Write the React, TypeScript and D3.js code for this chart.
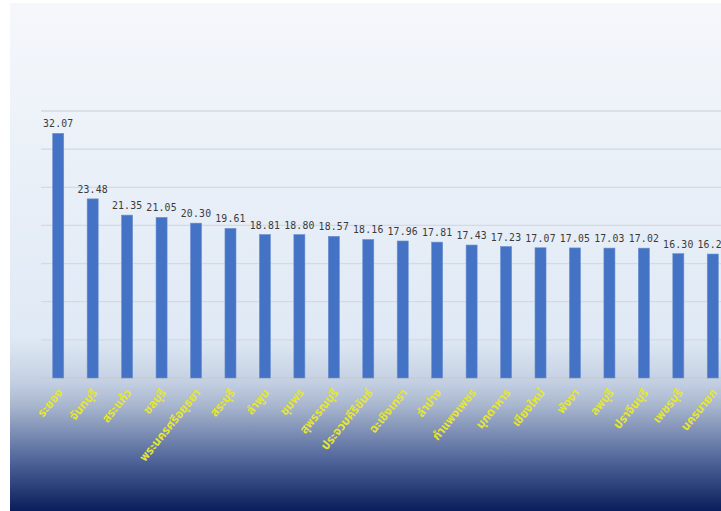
import React from "react";
import * as d3 from "d3";

const provinces: string[] = [
  "ระยอง", "จันทบุรี", "สระแก้ว", "ชลบุรี", "พระนครศรีอยุธยา", "สระบุรี", "ลำพูน", "ชุมพร",
  "สุพรรณบุรี", "ประจวบคีรีขันธ์", "ฉะเชิงเทรา", "ลำปาง", "กำแพงเพชร", "มุกดาหาร", "เชียงใหม่",
  "พังงา", "ลพบุรี", "ปราจีนบุรี", "เพชรบุรี", "นครนายก",
];
const values: number[] = [
  32.07, 23.48, 21.35, 21.05, 20.3, 19.61, 18.81, 18.8, 18.57, 18.16, 17.96, 17.81, 17.43,
  17.23, 17.07, 17.05, 17.03, 17.02, 16.3, 16.25,
];
const yTicks: number[] = [0, 5, 10, 15, 20, 25, 30, 35];

const W = 721;
const H = 511;
const plotLeft = 41;
const step = 34.45;
const baseY = 378;
const topY = 111;

export default function App() {
  const x = d3
    .scaleBand<string>()
    .domain(provinces)
    .range([plotLeft, plotLeft + step * provinces.length])
    .paddingInner(0.68)
    .paddingOuter(0.34);
  const y = d3.scaleLinear().domain([0, 35]).range([baseY, topY]);

  return (
    <div style={{ position: "fixed", left: 0, top: 0, width: W, height: H, background: "#fff" }}>
      <svg width={W} height={H} style={{ display: "block" }}>
        <defs>
          <linearGradient id="bg" x1="0" y1="0" x2="0" y2="1">
            <stop offset="0" stopColor="#f5f7fb" />
            <stop offset="0.66" stopColor="#dfe9f5" />
            <stop offset="0.745" stopColor="#c4d0e2" />
            <stop offset="0.79" stopColor="#aab8cf" />
            <stop offset="0.9" stopColor="#50659a" />
            <stop offset="1" stopColor="#0a1d5c" />
          </linearGradient>
        </defs>
        <rect x={10} y={3} width={W - 10} height={H - 3} fill="url(#bg)" />
        {yTicks.map((t) => (
          <line
            key={t}
            x1={plotLeft}
            x2={W}
            y1={y(t)}
            y2={y(t)}
            stroke={t === 0 ? "#c9cdd3" : "#d6d9de"}
            strokeWidth={1.3}
          />
        ))}
        {provinces.map((p, i) => {
          const bx = x(p)!;
          const bw = x.bandwidth();
          const cx = bx + bw / 2;
          return (
            <g key={p}>
              <rect
                x={bx}
                y={y(values[i])}
                width={bw}
                height={baseY - y(values[i])}
                fill="#4472c4"
                stroke="#6b8fd0"
                strokeWidth={0.6}
              />
              <text
                x={cx}
                y={y(values[i]) - 6}
                textAnchor="middle"
                fontFamily="'DejaVu Sans Mono', monospace"
                fontSize={9.8}
                letterSpacing={0.2}
                fill="#3a3a3a"
              >
                {values[i].toFixed(2)}
              </text>
              <text
                transform={`translate(${cx + 5},${baseY + 15}) rotate(-51)`}
                textAnchor="end"
                fontFamily="Tahoma, 'Noto Sans Thai', 'Noto Sans', sans-serif"
                fontSize={12}
                fontWeight="bold"
                fill="#e6e62e"
              >
                {p}
              </text>
            </g>
          );
        })}
      </svg>
    </div>
  );
}
